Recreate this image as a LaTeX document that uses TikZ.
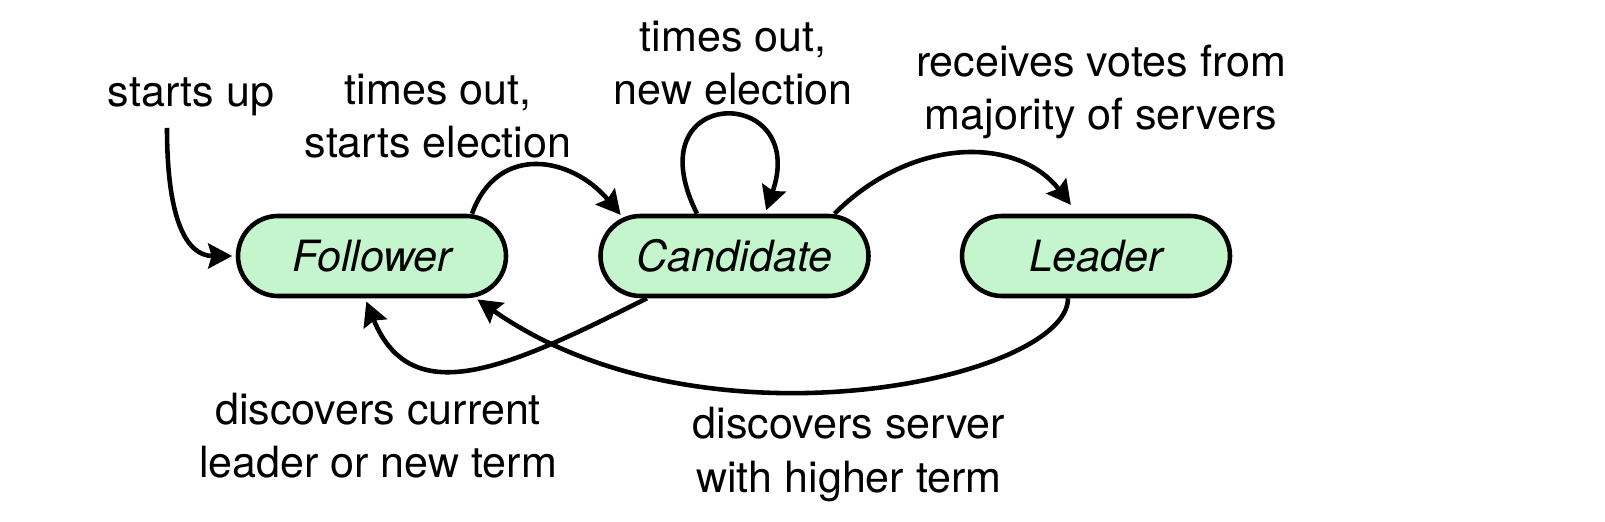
\documentclass[tikz,border=0pt]{standalone}
\usepackage{fontspec}
\setmainfont{TeX Gyre Heros}
\usetikzlibrary{shapes.misc,arrows.meta}
\definecolor{stategreen}{RGB}{197,245,205}
\newcommand\labelsize{\fontsize{24.5}{30.2}\selectfont}
\tikzset{
  state/.style={rounded rectangle, draw, line width=2.6pt, fill=stategreen,
    minimum width=5.36cm, minimum height=1.6cm, inner sep=0pt,
    font=\labelsize\itshape},
  trans/.style={line width=2.6pt, shorten >=2pt,
    -{Stealth[length=0.48cm,width=0.5cm,inset=0.07cm]}},
  lbl/.style={align=center, font=\labelsize}
}
\begin{document}
\begin{tikzpicture}
\useasboundingbox (0,0) rectangle (32.1,10.42);
% the three server states
\node[state] (fol) at (7.44,5.3) {Follower};
\node[state] (cand) at (14.69,5.3) {Candidate};
\node[state] (lead) at (21.92,5.3) {Leader};

% transition labels
\node[lbl] (up) at (3.82,8.48) {starts up};
\node[lbl] (elect) at (8.76,8.10) {times out,\\starts election};
\node[lbl] (again) at (14.66,9.16) {times out,\\new election};
\node[lbl] (votes) at (22.02,8.58) {receives votes from\\majority of servers};
\node[lbl] (cur) at (7.56,1.70) {discovers current\\leader or new term};
\node[lbl] (higher) at (16.98,1.33) {discovers server\\with higher term};

% transitions
\coordinate (boot) at (3.34,7.86);
\draw[trans] (boot) .. controls +(0,-1.8) and +(-1,0) .. (fol.west);
\draw[trans] ([xshift=2cm]fol.north) .. controls +(0.51,1.41) and +(-1.03,1.23) .. (cand.161);
\draw[trans] ([xshift=-0.75cm]cand.north) .. controls +(-1.3,2.6) and +(0.9,2.6) .. ([xshift=0.61cm]cand.north);
\draw[trans] ([xshift=2cm]cand.north) .. controls +(1.56,1.56) and +(-1.1,1.43) .. ([xshift=-0.46cm,yshift=0.12cm]lead.north);
\draw[trans] ([xshift=-1.75cm]cand.south) .. controls +(-2.68,-1.34) and +(0.94,-2.32) .. ([xshift=-0.14cm]fol.south);
\draw[trans] ([xshift=-0.56cm]lead.south) .. controls +(0,-1.6) and +(4.6,-3.22) .. (fol.-22);
\end{tikzpicture}
\end{document}
